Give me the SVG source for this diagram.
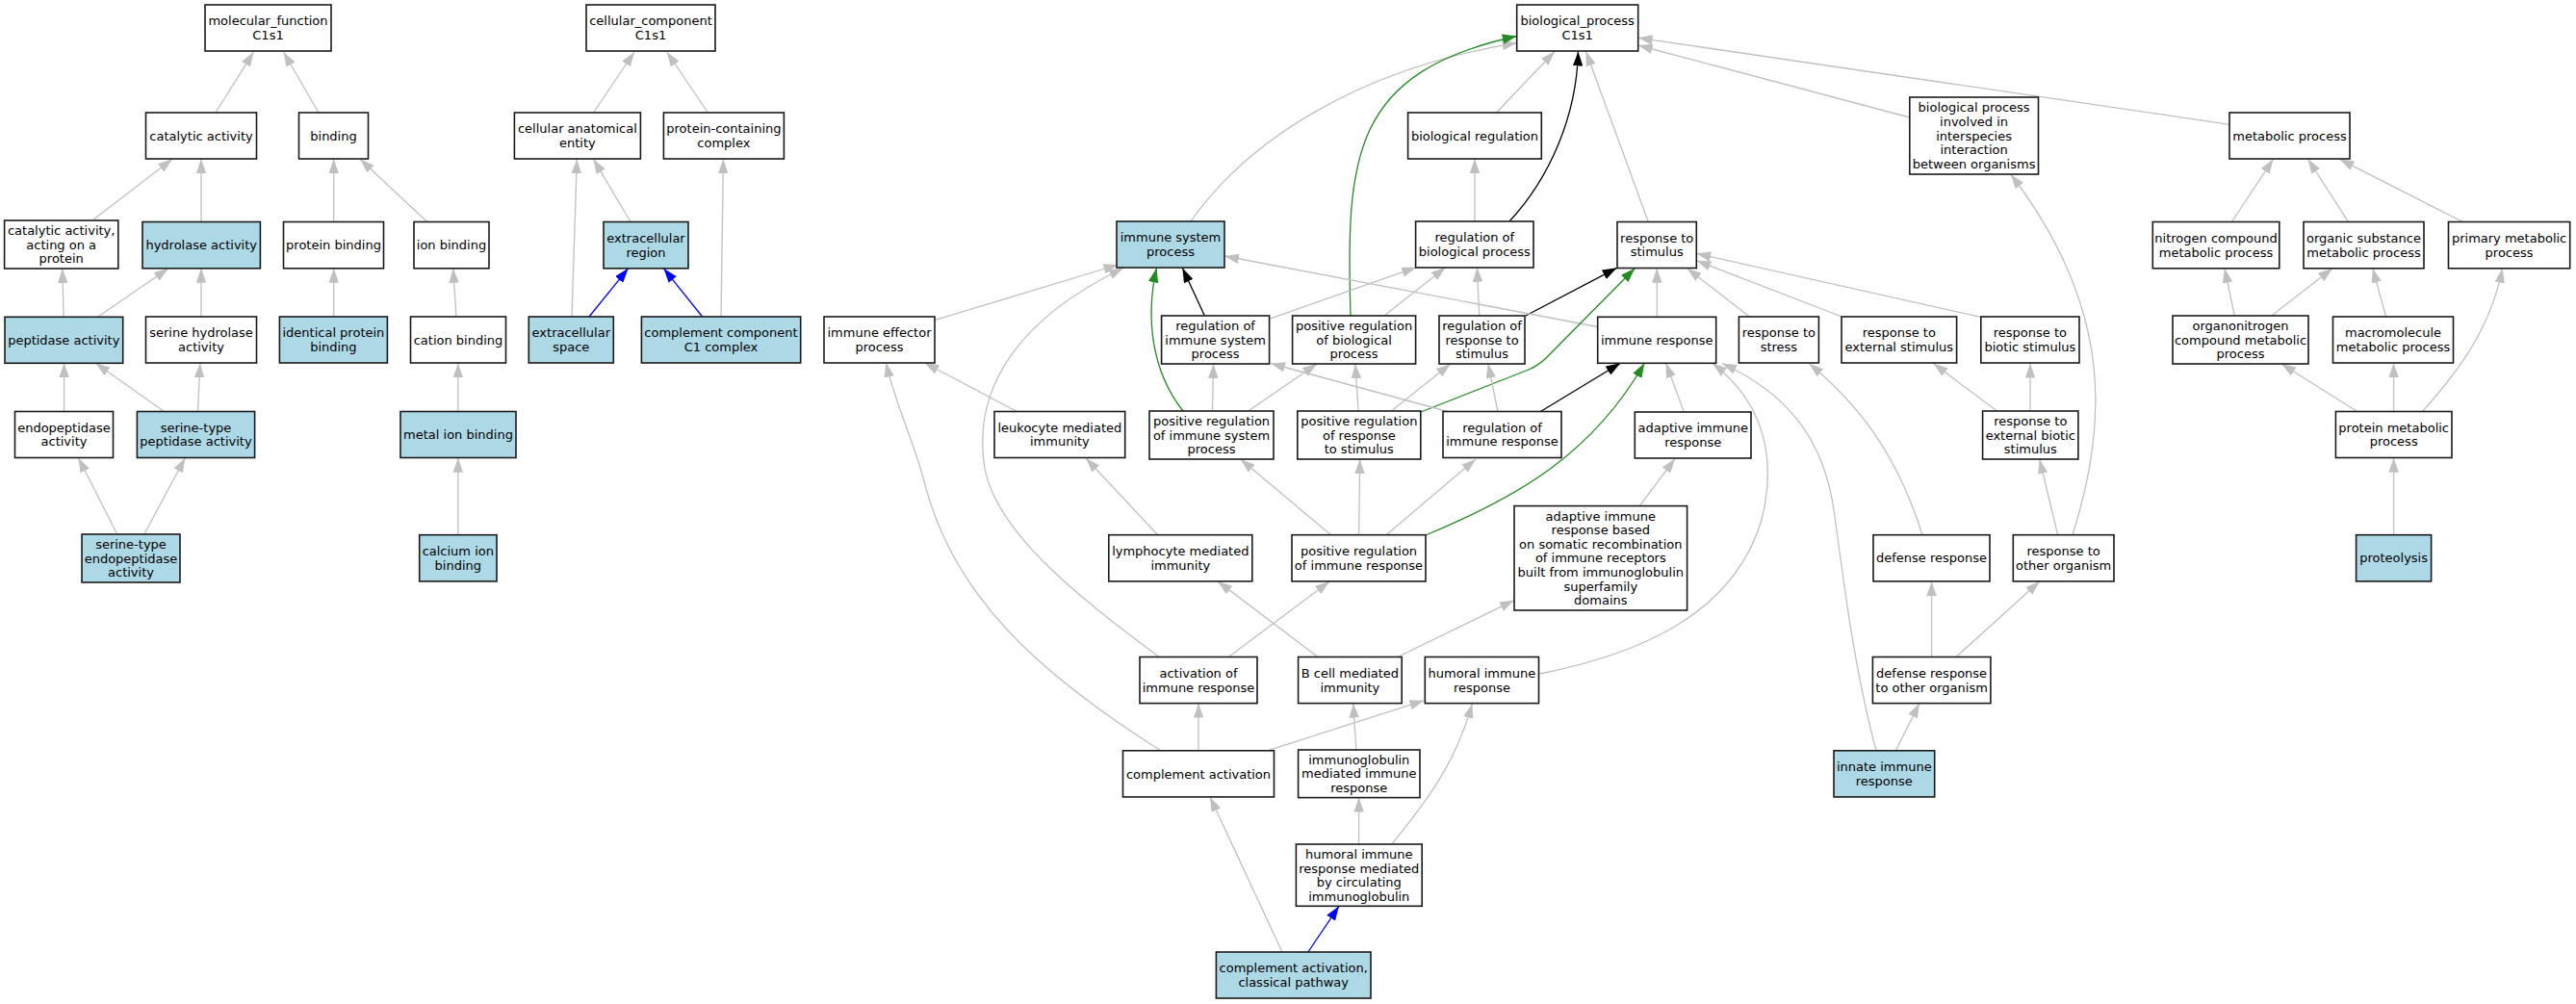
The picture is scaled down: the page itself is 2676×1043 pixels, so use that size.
<svg xmlns="http://www.w3.org/2000/svg" width="2676" height="1043" viewBox="0 0 2676 1043">
<style>
.n rect{fill:#fff;stroke:#1a1a1a;stroke-width:1.6}
.n.h rect{fill:#add8e6}
text{font-family:"DejaVu Sans","Liberation Sans",sans-serif;font-size:13px;text-anchor:middle;fill:#000}
.e{fill:none;stroke:#c0c0c0;stroke-width:1.3;marker-end:url(#ag)}
.e.k{stroke:#000;marker-end:url(#ak)}
.e.g{stroke:#228b22;marker-end:url(#agr)}
.e.b{stroke:#0000ff;marker-end:url(#ab)}
</style>
<defs>
<marker id="ag" viewBox="0 0 15 10.5" refX="15" refY="5.25" markerWidth="15" markerHeight="10.5" markerUnits="userSpaceOnUse" orient="auto"><path d="M0,0L15,5.25L0,10.5z" fill="#c0c0c0"/></marker>
<marker id="ak" viewBox="0 0 15 10.5" refX="15" refY="5.25" markerWidth="15" markerHeight="10.5" markerUnits="userSpaceOnUse" orient="auto"><path d="M0,0L15,5.25L0,10.5z" fill="#000"/></marker>
<marker id="agr" viewBox="0 0 15 10.5" refX="15" refY="5.25" markerWidth="15" markerHeight="10.5" markerUnits="userSpaceOnUse" orient="auto"><path d="M0,0L15,5.25L0,10.5z" fill="#228b22"/></marker>
<marker id="ab" viewBox="0 0 15 10.5" refX="15" refY="5.25" markerWidth="15" markerHeight="10.5" markerUnits="userSpaceOnUse" orient="auto"><path d="M0,0L15,5.25L0,10.5z" fill="#0000ff"/></marker>
</defs>
<rect x="0" y="0" width="2676" height="1043" fill="#fff"/>
<g id="edges">
<path class="e" d="M223.9,117L263.5,54"/>
<path class="e" d="M331,117L294.5,54"/>
<path class="e" d="M95.9,229L179,165.3"/>
<path class="e" d="M209,230.5L209,165.3"/>
<path class="e" d="M346.7,230.5L346.7,165.3"/>
<path class="e" d="M443.7,230.5L374,165.3"/>
<path class="e" d="M66,329L64.9,279"/>
<path class="e" d="M102,329L175,278.8"/>
<path class="e" d="M209,329L209,278.8"/>
<path class="e" d="M346.7,329L346.7,278.8"/>
<path class="e" d="M474,329L470.7,278.8"/>
<path class="e" d="M66.6,427.5L66.6,377.2"/>
<path class="e" d="M170.5,427.5L99.3,377.2"/>
<path class="e" d="M205.5,427.5L207.8,377.2"/>
<path class="e" d="M121.7,555L81.5,475.7"/>
<path class="e" d="M149.8,555L192.3,475.7"/>
<path class="e" d="M475.8,427.5L475.8,377.2"/>
<path class="e" d="M475.8,555.7L475.8,475.7"/>
<path class="e" d="M616.5,117L659,54"/>
<path class="e" d="M735.3,117L692.8,54"/>
<path class="e" d="M655,230.5L616.5,165.3"/>
<path class="e" d="M594,329L599.3,165.3"/>
<path class="e b" d="M612,329L652.6,278.8"/>
<path class="e b" d="M729.6,329L689.4,278.8"/>
<path class="e" d="M749,329L751.4,165.3"/>
<path class="e" d="M1237,230C1300,140 1420,70 1575.7,44.6"/>
<path class="e" d="M1554.5,117L1615,53.5"/>
<path class="e k" d="M1568,230C1610,185 1638,120 1639.4,53.5"/>
<path class="e" d="M1712.3,230.5L1647.5,53.5"/>
<path class="e" d="M1983.8,122L1701.7,47"/>
<path class="e" d="M2316,129.3L1701.7,39.3"/>
<path class="e g" d="M1403,328C1398,160 1405,75 1575.7,37.5"/>
<path class="e" d="M1532,230L1532,165"/>
<path class="e" d="M970.7,332.7L1161.3,275"/>
<path class="e k" d="M1251.4,328L1228.4,278.5"/>
<path class="e" d="M1318.5,331.3L1471.2,277.7"/>
<path class="e" d="M1438,328L1501.6,277.7"/>
<path class="e" d="M1536.7,328L1534.4,277.7"/>
<path class="e k" d="M1584.9,328L1679.6,278.3"/>
<path class="e" d="M1721.3,329.3L1721.3,278.7"/>
<path class="e" d="M1659.7,339.5L1272,266"/>
<path class="e" d="M1817.3,329L1752.7,278.7"/>
<path class="e" d="M1913.3,329L1762.3,270.7"/>
<path class="e" d="M2057.8,329.4L1762.3,263.3"/>
<path class="e" d="M1056.2,427.5L960.4,376.8"/>
<path class="e g" d="M1229,427C1196,385 1190,330 1201.4,278.5"/>
<path class="e" d="M1259.4,427L1260.6,378"/>
<path class="e" d="M1296.7,427L1368,378"/>
<path class="e" d="M1411,427L1408,378"/>
<path class="e" d="M1445.4,427L1506.8,378"/>
<path class="e g" d="M1476,428L1588,384Q1600,379 1610,368L1698.3,278.7"/>
<path class="e" d="M1505.7,428L1320,377.5"/>
<path class="e" d="M1556,427.5L1545.8,377.7"/>
<path class="e k" d="M1600.4,427.5L1683.3,377.3"/>
<path class="e" d="M1749.3,428L1730.7,377.3"/>
<path class="e" d="M1202.7,555.7L1128,476"/>
<path class="e" d="M1382.6,555.7L1288.7,477"/>
<path class="e" d="M1411.6,555.7L1412.7,477"/>
<path class="e" d="M1440,555.7L1533,477"/>
<path class="e g" d="M1481,556C1580,515 1655,470 1708.3,377.3"/>
<path class="e" d="M1703.3,525.6L1740,476.5"/>
<path class="e" d="M1276.3,682.5L1381.2,603.9"/>
<path class="e" d="M1204,682.5C1120,620 1030,550 1022,480C1012,400 1060,330 1167,278.5"/>
<path class="e" d="M1369,682.5L1265,603.9"/>
<path class="e" d="M1451.8,682.5L1573,623.6"/>
<path class="e" d="M1599.5,700C1700,680 1800,640 1830,540C1845,480 1835,420 1779,377.5"/>
<path class="e" d="M1245,779.8L1245,730.6"/>
<path class="e" d="M1205.8,779.8C1080,700 990,620 960,500C950,460 930,420 920.4,376.8"/>
<path class="e" d="M1316.5,779.8L1479.4,727.7"/>
<path class="e" d="M1408.9,779L1405.8,730.6"/>
<path class="e" d="M1411.6,877L1411.6,828.6"/>
<path class="e" d="M1446,877C1475,840 1510,800 1529.4,731"/>
<path class="e" d="M1332,989L1257,828"/>
<path class="e b" d="M1358.9,989L1391,941.3"/>
<path class="e" d="M1949,779.8C1925,690 1915,600 1905,530C1895,460 1860,410 1789,377.5"/>
<path class="e" d="M1969.4,779.8L1993.9,730.6"/>
<path class="e" d="M2006.6,682.5L2006.6,603.9"/>
<path class="e" d="M2032,682.5L2118.9,603.9"/>
<path class="e" d="M1997,555.7C1970,470 1930,420 1879.3,377.6"/>
<path class="e" d="M2137.6,555.7L2118.7,477"/>
<path class="e" d="M2153,555.7C2190,440 2195,320 2088.8,181"/>
<path class="e" d="M2074.5,427L2008.5,377.6"/>
<path class="e" d="M2109,427L2109,377.6"/>
<path class="e" d="M2318.4,230.5L2361.5,165.3"/>
<path class="e" d="M2439.5,230.5L2397.6,165.3"/>
<path class="e" d="M2558.4,230.5L2430.4,165.3"/>
<path class="e" d="M2321.3,328L2311,278.8"/>
<path class="e" d="M2359.8,328L2423,278.8"/>
<path class="e" d="M2478.6,329L2464.8,278.8"/>
<path class="e" d="M2448.7,427.5L2370,378"/>
<path class="e" d="M2486.6,427.5L2486.6,377.2"/>
<path class="e" d="M2516.5,427.5C2545,395 2585,350 2599.7,278.8"/>
<path class="e" d="M2486.6,555.7L2486.6,475.7"/>
</g>
<g id="n_mf" class="n"><rect x="213" y="5" width="131" height="48"/><text><tspan x="278.5" y="26.3">molecular_function</tspan><tspan x="278.5" y="40.9">C1s1</tspan></text></g>
<g id="n_cat" class="n"><rect x="151.5" y="117" width="115" height="48"/><text x="209" y="145.6">catalytic activity</text></g>
<g id="n_bind" class="n"><rect x="310.5" y="117" width="72" height="48"/><text x="346.5" y="145.6">binding</text></g>
<g id="n_catprot" class="n"><rect x="4.6" y="229" width="118.2" height="50"/><text><tspan x="63.7" y="244">catalytic activity,</tspan><tspan x="63.7" y="258.6">acting on a</tspan><tspan x="63.7" y="273.2">protein</tspan></text></g>
<g id="n_hyd" class="n h"><rect x="148" y="230.5" width="122.4" height="48.3"/><text x="209.2" y="259.3">hydrolase activity</text></g>
<g id="n_pbind" class="n"><rect x="294.5" y="230.5" width="104" height="48.3"/><text x="346.5" y="259.3">protein binding</text></g>
<g id="n_ion" class="n"><rect x="430" y="230.5" width="78" height="48.3"/><text x="469" y="259.3">ion binding</text></g>
<g id="n_cc" class="n"><rect x="609" y="5" width="134" height="48"/><text><tspan x="676" y="26.3">cellular_component</tspan><tspan x="676" y="40.9">C1s1</tspan></text></g>
<g id="n_cae" class="n"><rect x="534.4" y="117" width="131" height="48"/><text><tspan x="599.9" y="138.3">cellular anatomical</tspan><tspan x="599.9" y="152.9">entity</tspan></text></g>
<g id="n_pcc" class="n"><rect x="689.4" y="117" width="125" height="48"/><text><tspan x="751.9" y="138.3">protein-containing</tspan><tspan x="751.9" y="152.9">complex</tspan></text></g>
<g id="n_ecr" class="n h"><rect x="627" y="230.5" width="88" height="48.3"/><text><tspan x="671" y="252">extracellular</tspan><tspan x="671" y="266.6">region</tspan></text></g>
<g id="n_pep" class="n h"><rect x="5" y="329.3" width="122.7" height="48"/><text x="66.3" y="357.9">peptidase activity</text></g>
<g id="n_serhyd" class="n"><rect x="151.5" y="329" width="115" height="48"/><text><tspan x="209" y="350.3">serine hydrolase</tspan><tspan x="209" y="364.9">activity</tspan></text></g>
<g id="n_ipb" class="n h"><rect x="290.4" y="329" width="112" height="48"/><text><tspan x="346.4" y="350.3">identical protein</tspan><tspan x="346.4" y="364.9">binding</tspan></text></g>
<g id="n_cation" class="n"><rect x="426.5" y="329" width="99" height="48"/><text x="476" y="357.6">cation binding</text></g>
<g id="n_ecs" class="n h"><rect x="549.3" y="329" width="88" height="48"/><text><tspan x="593.3" y="350.3">extracellular</tspan><tspan x="593.3" y="364.9">space</tspan></text></g>
<g id="n_c1" class="n h"><rect x="666.4" y="329" width="165.3" height="48"/><text><tspan x="749" y="350.3">complement component</tspan><tspan x="749" y="364.9">C1 complex</tspan></text></g>
<g id="n_endo" class="n"><rect x="15.5" y="427.5" width="102" height="48"/><text><tspan x="66.5" y="448.8">endopeptidase</tspan><tspan x="66.5" y="463.4">activity</tspan></text></g>
<g id="n_stpep" class="n h"><rect x="142.4" y="427.5" width="122.2" height="48"/><text><tspan x="203.5" y="448.8">serine-type</tspan><tspan x="203.5" y="463.4">peptidase activity</tspan></text></g>
<g id="n_metal" class="n h"><rect x="416" y="427.5" width="120" height="48"/><text x="476" y="456.1">metal ion binding</text></g>
<g id="n_stendo" class="n h"><rect x="85" y="555" width="102" height="50"/><text><tspan x="136" y="570">serine-type</tspan><tspan x="136" y="584.6">endopeptidase</tspan><tspan x="136" y="599.2">activity</tspan></text></g>
<g id="n_ca" class="n h"><rect x="435.7" y="555.7" width="80.3" height="48.2"/><text><tspan x="475.8" y="577.1">calcium ion</tspan><tspan x="475.8" y="591.7">binding</tspan></text></g>
<g id="n_bp" class="n"><rect x="1575.7" y="5" width="126" height="48"/><text><tspan x="1638.7" y="26.3">biological_process</tspan><tspan x="1638.7" y="40.9">C1s1</tspan></text></g>
<g id="n_breg" class="n"><rect x="1462.6" y="117" width="138.7" height="48"/><text x="1532" y="145.6">biological regulation</text></g>
<g id="n_bpi" class="n"><rect x="1983.8" y="101" width="133.7" height="80"/><text><tspan x="2050.6" y="116.4">biological process</tspan><tspan x="2050.6" y="131">involved in</tspan><tspan x="2050.6" y="145.6">interspecies</tspan><tspan x="2050.6" y="160.2">interaction</tspan><tspan x="2050.6" y="174.8">between organisms</tspan></text></g>
<g id="n_met" class="n"><rect x="2316" y="117" width="125" height="48"/><text x="2378.5" y="145.6">metabolic process</text></g>
<g id="n_isp" class="n h"><rect x="1160" y="230" width="112" height="48"/><text><tspan x="1216" y="251.3">immune system</tspan><tspan x="1216" y="265.9">process</tspan></text></g>
<g id="n_rbp" class="n"><rect x="1470.6" y="230" width="122.4" height="48"/><text><tspan x="1531.8" y="251.3">regulation of</tspan><tspan x="1531.8" y="265.9">biological process</tspan></text></g>
<g id="n_rts" class="n"><rect x="1680" y="230.5" width="82.3" height="48"/><text><tspan x="1721.2" y="251.8">response to</tspan><tspan x="1721.2" y="266.4">stimulus</tspan></text></g>
<g id="n_ncmp" class="n"><rect x="2236.3" y="230.5" width="131.5" height="48.3"/><text><tspan x="2302" y="252">nitrogen compound</tspan><tspan x="2302" y="266.6">metabolic process</tspan></text></g>
<g id="n_osmp" class="n"><rect x="2393" y="230.5" width="125" height="48.3"/><text><tspan x="2455.5" y="252">organic substance</tspan><tspan x="2455.5" y="266.6">metabolic process</tspan></text></g>
<g id="n_pmp" class="n"><rect x="2543.5" y="230.5" width="126.2" height="48.3"/><text><tspan x="2606.6" y="252">primary metabolic</tspan><tspan x="2606.6" y="266.6">process</tspan></text></g>
<g id="n_iep" class="n"><rect x="856" y="329" width="115" height="48"/><text><tspan x="913.5" y="350.3">immune effector</tspan><tspan x="913.5" y="364.9">process</tspan></text></g>
<g id="n_risp" class="n"><rect x="1206.6" y="328" width="112" height="50"/><text><tspan x="1262.6" y="343">regulation of</tspan><tspan x="1262.6" y="357.6">immune system</tspan><tspan x="1262.6" y="372.2">process</tspan></text></g>
<g id="n_prbp" class="n"><rect x="1342.6" y="328" width="128" height="50"/><text><tspan x="1406.6" y="343">positive regulation</tspan><tspan x="1406.6" y="357.6">of biological</tspan><tspan x="1406.6" y="372.2">process</tspan></text></g>
<g id="n_rrts" class="n"><rect x="1495" y="328" width="89" height="50"/><text><tspan x="1539.5" y="343">regulation of</tspan><tspan x="1539.5" y="357.6">response to</tspan><tspan x="1539.5" y="372.2">stimulus</tspan></text></g>
<g id="n_ir" class="n"><rect x="1659.7" y="329.3" width="123" height="48"/><text x="1721.2" y="357.9">immune response</text></g>
<g id="n_rstress" class="n"><rect x="1806.4" y="329" width="83" height="48"/><text><tspan x="1847.9" y="350.3">response to</tspan><tspan x="1847.9" y="364.9">stress</tspan></text></g>
<g id="n_rext" class="n"><rect x="1913" y="329" width="119.6" height="48"/><text><tspan x="1972.8" y="350.3">response to</tspan><tspan x="1972.8" y="364.9">external stimulus</tspan></text></g>
<g id="n_rbio" class="n"><rect x="2057.8" y="329" width="102.2" height="48"/><text><tspan x="2108.9" y="350.3">response to</tspan><tspan x="2108.9" y="364.9">biotic stimulus</tspan></text></g>
<g id="n_onmp" class="n"><rect x="2257" y="328" width="141" height="50"/><text><tspan x="2327.5" y="343">organonitrogen</tspan><tspan x="2327.5" y="357.6">compound metabolic</tspan><tspan x="2327.5" y="372.2">process</tspan></text></g>
<g id="n_mmp" class="n"><rect x="2423.5" y="329" width="125" height="48"/><text><tspan x="2486" y="350.3">macromolecule</tspan><tspan x="2486" y="364.9">metabolic process</tspan></text></g>
<g id="n_lmi" class="n"><rect x="1033" y="427.5" width="135.7" height="48"/><text><tspan x="1100.9" y="448.8">leukocyte mediated</tspan><tspan x="1100.9" y="463.4">immunity</tspan></text></g>
<g id="n_prisp" class="n"><rect x="1194" y="427" width="129" height="50"/><text><tspan x="1258.5" y="442">positive regulation</tspan><tspan x="1258.5" y="456.6">of immune system</tspan><tspan x="1258.5" y="471.2">process</tspan></text></g>
<g id="n_prrts" class="n"><rect x="1347.8" y="427" width="128" height="50"/><text><tspan x="1411.8" y="442">positive regulation</tspan><tspan x="1411.8" y="456.6">of response</tspan><tspan x="1411.8" y="471.2">to stimulus</tspan></text></g>
<g id="n_rir" class="n"><rect x="1499" y="427.5" width="123" height="48"/><text><tspan x="1560.5" y="448.8">regulation of</tspan><tspan x="1560.5" y="463.4">immune response</tspan></text></g>
<g id="n_air" class="n"><rect x="1698.3" y="428" width="120.7" height="48"/><text><tspan x="1758.7" y="449.3">adaptive immune</tspan><tspan x="1758.7" y="463.9">response</tspan></text></g>
<g id="n_rebs" class="n"><rect x="2059.6" y="427" width="99.3" height="50"/><text><tspan x="2109.3" y="442">response to</tspan><tspan x="2109.3" y="456.6">external biotic</tspan><tspan x="2109.3" y="471.2">stimulus</tspan></text></g>
<g id="n_prmp" class="n"><rect x="2426.4" y="427.5" width="120.6" height="48"/><text><tspan x="2486.7" y="448.8">protein metabolic</tspan><tspan x="2486.7" y="463.4">process</tspan></text></g>
<g id="n_lymph" class="n"><rect x="1151.8" y="555.7" width="149" height="48.2"/><text><tspan x="1226.3" y="577.1">lymphocyte mediated</tspan><tspan x="1226.3" y="591.7">immunity</tspan></text></g>
<g id="n_prir" class="n"><rect x="1342" y="555.7" width="139" height="48.2"/><text><tspan x="1411.5" y="577.1">positive regulation</tspan><tspan x="1411.5" y="591.7">of immune response</tspan></text></g>
<g id="n_airb" class="n"><rect x="1573" y="525.6" width="179.6" height="108.4"/><text><tspan x="1662.8" y="540.6">adaptive immune</tspan><tspan x="1662.8" y="555.2">response based</tspan><tspan x="1662.8" y="569.8">on somatic recombination</tspan><tspan x="1662.8" y="584.4">of immune receptors</tspan><tspan x="1662.8" y="599">built from immunoglobulin</tspan><tspan x="1662.8" y="613.6">superfamily</tspan><tspan x="1662.8" y="628.2">domains</tspan></text></g>
<g id="n_defr" class="n"><rect x="1946" y="555.7" width="121" height="48.2"/><text x="2006.5" y="584.4">defense response</text></g>
<g id="n_rto" class="n"><rect x="2091.3" y="555.7" width="104.7" height="48.2"/><text><tspan x="2143.6" y="577.1">response to</tspan><tspan x="2143.6" y="591.7">other organism</tspan></text></g>
<g id="n_prot" class="n h"><rect x="2447.6" y="555.7" width="78" height="48.2"/><text x="2486.6" y="584.4">proteolysis</text></g>
<g id="n_act" class="n"><rect x="1184" y="682.5" width="122" height="48.1"/><text><tspan x="1245" y="703.9">activation of</tspan><tspan x="1245" y="718.5">immune response</tspan></text></g>
<g id="n_bcell" class="n"><rect x="1348.6" y="682.5" width="107.6" height="48.1"/><text><tspan x="1402.4" y="703.9">B cell mediated</tspan><tspan x="1402.4" y="718.5">immunity</tspan></text></g>
<g id="n_hir" class="n"><rect x="1480.3" y="682.5" width="118.2" height="48.1"/><text><tspan x="1539.4" y="703.9">humoral immune</tspan><tspan x="1539.4" y="718.5">response</tspan></text></g>
<g id="n_drto" class="n"><rect x="1945.4" y="682.5" width="122.5" height="48.1"/><text><tspan x="2006.6" y="703.9">defense response</tspan><tspan x="2006.6" y="718.5">to other organism</tspan></text></g>
<g id="n_caact" class="n"><rect x="1166.5" y="779.8" width="157" height="48.1"/><text x="1245" y="808.5">complement activation</text></g>
<g id="n_igm" class="n"><rect x="1348.6" y="779" width="126.4" height="49.6"/><text><tspan x="1411.8" y="793.8">immunoglobulin</tspan><tspan x="1411.8" y="808.4">mediated immune</tspan><tspan x="1411.8" y="823">response</tspan></text></g>
<g id="n_innate" class="n h"><rect x="1905" y="779.8" width="104.7" height="48.1"/><text><tspan x="1957.3" y="801.2">innate immune</tspan><tspan x="1957.3" y="815.8">response</tspan></text></g>
<g id="n_hcirc" class="n"><rect x="1346.4" y="877" width="130.8" height="64.3"/><text><tspan x="1411.8" y="891.9">humoral immune</tspan><tspan x="1411.8" y="906.5">response mediated</tspan><tspan x="1411.8" y="921.1">by circulating</tspan><tspan x="1411.8" y="935.7">immunoglobulin</tspan></text></g>
<g id="n_cacp" class="n h"><rect x="1263.4" y="989" width="160.6" height="48"/><text><tspan x="1343.7" y="1010.3">complement activation,</tspan><tspan x="1343.7" y="1024.9">classical pathway</tspan></text></g>
</svg>
